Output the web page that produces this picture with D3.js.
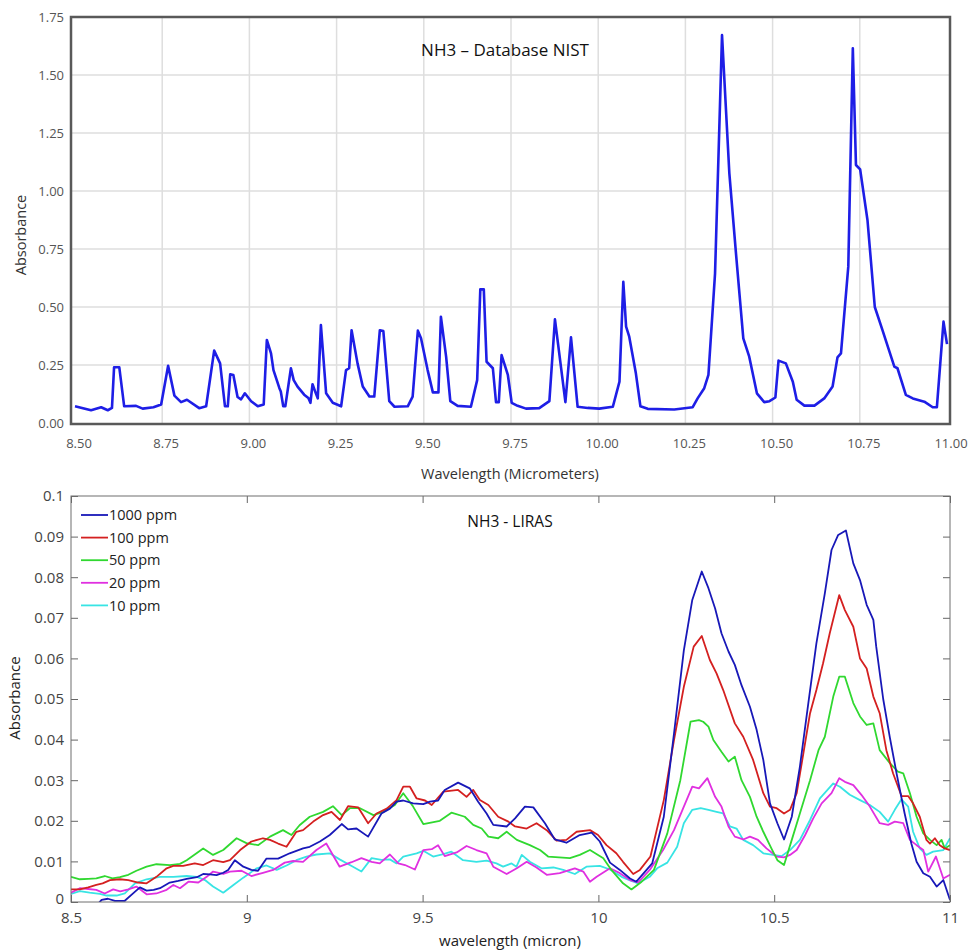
<!DOCTYPE html>
<html>
<head>
<meta charset="utf-8">
<script src="https://cdn.jsdelivr.net/npm/d3@7"></script>
<style>
  body { margin: 0; background: #fff; }
  svg { display: block; }
  text { font-family: "Open Sans", sans-serif; }
</style>
</head>
<body>
<svg id="chart" width="974" height="952"></svg>
<script>
// NIST reference spectrum: [wavelength (um), absorbance]
var nistSpectrum = [
  [8.50,0.072],[8.52,0.065],[8.546,0.055],[8.575,0.068],[8.594,0.055],[8.606,0.065],[8.612,0.24],[8.627,0.24],
  [8.641,0.072],[8.675,0.074],[8.694,0.062],[8.725,0.068],[8.747,0.08],[8.767,0.247],[8.785,0.118],[8.804,0.09],
  [8.821,0.10],[8.856,0.064],[8.876,0.072],[8.899,0.312],[8.916,0.257],[8.930,0.072],[8.938,0.072],[8.945,0.21],
  [8.954,0.207],[8.966,0.112],[8.976,0.102],[8.987,0.128],[9.005,0.094],[9.024,0.072],[9.041,0.08],[9.050,0.358],
  [9.062,0.30],[9.069,0.228],[9.086,0.15],[9.090,0.136],[9.097,0.072],[9.103,0.072],[9.119,0.236],[9.127,0.185],
  [9.138,0.157],[9.157,0.122],[9.169,0.108],[9.175,0.087],[9.181,0.167],[9.190,0.13],[9.196,0.106],[9.205,0.422],
  [9.220,0.128],[9.239,0.087],[9.263,0.072],[9.277,0.228],[9.286,0.236],[9.293,0.40],[9.310,0.257],[9.325,0.157],
  [9.344,0.114],[9.358,0.114],[9.374,0.40],[9.384,0.396],[9.401,0.094],[9.416,0.07],[9.454,0.072],[9.468,0.114],
  [9.483,0.398],[9.492,0.365],[9.511,0.228],[9.526,0.132],[9.542,0.132],[9.549,0.458],[9.564,0.286],[9.576,0.094],
  [9.597,0.074],[9.635,0.07],[9.653,0.185],[9.662,0.576],[9.672,0.576],[9.680,0.264],[9.698,0.236],[9.707,0.09],
  [9.715,0.09],[9.723,0.293],[9.741,0.207],[9.752,0.087],[9.769,0.074],[9.793,0.062],[9.831,0.064],[9.860,0.094],
  [9.876,0.447],[9.906,0.09],[9.922,0.369],[9.941,0.07],[9.970,0.065],[10.003,0.062],[10.042,0.07],[10.061,0.178],
  [10.072,0.609],[10.080,0.415],[10.089,0.372],[10.108,0.214],[10.121,0.072],[10.142,0.061],[10.218,0.058],
  [10.271,0.068],[10.285,0.106],[10.304,0.15],[10.316,0.207],[10.335,0.645],[10.355,1.672],[10.376,1.076],
  [10.395,0.731],[10.416,0.365],[10.433,0.286],[10.455,0.128],[10.476,0.09],[10.491,0.094],[10.508,0.11],
  [10.517,0.269],[10.538,0.257],[10.558,0.178],[10.569,0.1],[10.591,0.075],[10.620,0.075],[10.648,0.106],
  [10.672,0.157],[10.686,0.283],[10.696,0.30],[10.717,0.674],[10.730,1.615],[10.739,1.112],[10.751,1.093],
  [10.772,0.875],[10.793,0.50],[10.815,0.40],[10.849,0.243],[10.858,0.236],[10.882,0.121],[10.902,0.106],
  [10.935,0.092],[10.959,0.068],[10.971,0.068],[10.990,0.437],[11.0,0.34]
];
var nistXTicks = [8.5, 8.75, 9, 9.25, 9.5, 9.75, 10, 10.25, 10.5, 10.75, 11];
var nistYTicks = [0, 0.25, 0.5, 0.75, 1, 1.25, 1.5, 1.75];

// LIRAS measurements, one array per concentration: [wavelength (micron), absorbance]
var liras1000 = [
  [8.50,-0.002],[8.55,-0.003],[8.587,0.0005],[8.605,0.0008],[8.625,0.0003],[8.653,0.0003],[8.675,0.002],[8.696,0.0036],
  [8.715,0.0028],[8.735,0.003],[8.753,0.0034],[8.781,0.0048],[8.805,0.0052],[8.829,0.0057],[8.858,0.0061],[8.876,0.0069],
  [8.895,0.0068],[8.914,0.0066],[8.933,0.0072],[8.947,0.0079],[8.966,0.0103],[8.99,0.0087],[9.013,0.0079],[9.032,0.0077],
  [9.056,0.0107],[9.089,0.0107],[9.122,0.012],[9.16,0.0132],[9.179,0.0136],[9.208,0.0149],[9.236,0.0165],[9.27,0.0192],
  [9.288,0.0179],[9.312,0.0181],[9.345,0.0161],[9.383,0.0218],[9.407,0.023],[9.426,0.0247],[9.445,0.025],[9.473,0.0243],
  [9.502,0.0241],[9.521,0.0247],[9.544,0.025],[9.563,0.0276],[9.601,0.0294],[9.634,0.028],[9.658,0.0247],[9.682,0.0218],
  [9.701,0.019],[9.739,0.0186],[9.763,0.0206],[9.791,0.0235],[9.815,0.0233],[9.848,0.0194],[9.876,0.0154],[9.909,0.0146],
  [9.947,0.0165],[9.981,0.0171],[10.004,0.0149],[10.033,0.0097],[10.061,0.0079],[10.09,0.0058],[10.108,0.005],
  [10.137,0.0079],[10.153,0.0095],[10.186,0.021],[10.215,0.0415],[10.243,0.062],[10.267,0.0744],[10.294,0.0814],
  [10.313,0.0773],[10.332,0.0723],[10.35,0.0662],[10.37,0.0617],[10.388,0.0584],[10.407,0.0534],[10.431,0.0481],
  [10.45,0.0424],[10.469,0.035],[10.488,0.0243],[10.509,0.0194],[10.528,0.0154],[10.55,0.021],[10.573,0.0333],
  [10.597,0.0489],[10.62,0.0637],[10.644,0.076],[10.663,0.0867],[10.682,0.0904],[10.704,0.0915],[10.725,0.0834],
  [10.744,0.0793],[10.763,0.0732],[10.782,0.0695],[10.79,0.063],[10.81,0.050],[10.829,0.0405],[10.848,0.0317],
  [10.871,0.0218],[10.89,0.0144],[10.905,0.0099],[10.924,0.0071],[10.943,0.0062],[10.962,0.0038],[10.981,0.0054],[11.0,0.0005]
];
var liras100 = [
  [8.5,0.0031],[8.525,0.0031],[8.549,0.0036],[8.572,0.0042],[8.59,0.0046],[8.611,0.0054],[8.639,0.0056],[8.663,0.0054],
  [8.691,0.0048],[8.715,0.0046],[8.743,0.0062],[8.772,0.0083],[8.791,0.0089],[8.819,0.0089],[8.852,0.0095],[8.876,0.0091],
  [8.904,0.0103],[8.933,0.0098],[8.952,0.0103],[8.981,0.0128],[9.013,0.0149],[9.046,0.0157],[9.066,0.0153],[9.089,0.0144],
  [9.113,0.0136],[9.141,0.0173],[9.16,0.0177],[9.189,0.0198],[9.217,0.0214],[9.241,0.0222],[9.265,0.0202],[9.288,0.0236],
  [9.317,0.0233],[9.345,0.0194],[9.369,0.0218],[9.398,0.023],[9.426,0.0251],[9.445,0.0284],[9.464,0.0284],[9.483,0.0255],
  [9.507,0.025],[9.526,0.0239],[9.559,0.0272],[9.601,0.0276],[9.625,0.0259],[9.644,0.0276],[9.663,0.0251],[9.687,0.0239],
  [9.715,0.021],[9.744,0.0198],[9.763,0.0186],[9.796,0.0181],[9.824,0.0194],[9.853,0.0177],[9.881,0.0151],[9.909,0.0153],
  [9.938,0.0173],[9.976,0.0177],[9.999,0.0165],[10.023,0.014],[10.051,0.012],[10.07,0.0099],[10.099,0.0069],[10.118,0.0079],
  [10.148,0.0112],[10.186,0.0251],[10.215,0.0399],[10.243,0.053],[10.271,0.0629],[10.294,0.0655],[10.317,0.0596],
  [10.336,0.0563],[10.355,0.0522],[10.388,0.044],[10.412,0.0407],[10.44,0.035],[10.469,0.0268],[10.488,0.0235],
  [10.507,0.0231],[10.528,0.0218],[10.545,0.0227],[10.564,0.0268],[10.583,0.0366],[10.602,0.0465],[10.62,0.0522],
  [10.639,0.0588],[10.658,0.0662],[10.685,0.0756],[10.701,0.0719],[10.725,0.0678],[10.744,0.06],[10.763,0.0575],
  [10.782,0.0506],[10.8,0.0465],[10.819,0.0374],[10.838,0.0317],[10.862,0.0261],[10.881,0.0261],[10.895,0.0243],
  [10.914,0.021],[10.933,0.0153],[10.943,0.0144],[10.957,0.0157],[10.971,0.014],[10.985,0.0132],[11.0,0.0128]
];
var liras50 = [
  [8.5,0.0062],[8.525,0.0056],[8.549,0.0057],[8.572,0.0058],[8.596,0.0064],[8.618,0.0058],[8.639,0.0061],[8.663,0.0067],
  [8.686,0.0077],[8.715,0.0087],[8.743,0.0093],[8.781,0.0091],[8.81,0.0094],[8.829,0.0103],[8.876,0.0132],[8.904,0.0116],
  [8.933,0.0128],[8.971,0.0157],[8.999,0.0145],[9.032,0.014],[9.066,0.0161],[9.103,0.0177],[9.127,0.0165],[9.15,0.0189],
  [9.179,0.021],[9.217,0.0222],[9.245,0.0236],[9.27,0.0214],[9.293,0.0231],[9.322,0.0231],[9.36,0.0214],[9.388,0.0222],
  [9.421,0.0239],[9.445,0.0268],[9.473,0.0235],[9.502,0.0192],[9.549,0.02],[9.582,0.022],[9.62,0.021],[9.644,0.019],
  [9.668,0.0181],[9.687,0.0161],[9.715,0.0157],[9.739,0.0173],[9.768,0.0153],[9.805,0.014],[9.834,0.0128],[9.857,0.0112],
  [9.919,0.0108],[9.947,0.0116],[9.976,0.0128],[10.014,0.0108],[10.037,0.0079],[10.07,0.0046],[10.094,0.0031],
  [10.123,0.005],[10.158,0.0079],[10.196,0.0169],[10.233,0.03],[10.262,0.0444],[10.286,0.0448],[10.298,0.0444],
  [10.313,0.0432],[10.327,0.0399],[10.35,0.037],[10.37,0.0346],[10.388,0.0358],[10.407,0.03],[10.431,0.0259],
  [10.45,0.021],[10.469,0.0173],[10.492,0.0132],[10.509,0.0103],[10.528,0.0091],[10.55,0.0153],[10.573,0.0218],
  [10.602,0.03],[10.626,0.0374],[10.644,0.0407],[10.668,0.0506],[10.685,0.0555],[10.701,0.0555],[10.725,0.049],
  [10.744,0.0457],[10.763,0.0436],[10.782,0.044],[10.8,0.0374],[10.829,0.0342],[10.852,0.0321],[10.867,0.0317],
  [10.886,0.0268],[10.905,0.021],[10.924,0.0169],[10.943,0.0153],[10.962,0.014],[10.976,0.0153],[10.985,0.0132],[11.0,0.014]
];
var liras20 = [
  [8.5,0.0023],[8.525,0.0034],[8.549,0.0032],[8.572,0.003],[8.596,0.0021],[8.62,0.0031],[8.64,0.0026],[8.663,0.0031],
  [8.686,0.0038],[8.715,0.0019],[8.743,0.0021],[8.772,0.003],[8.791,0.0042],[8.81,0.0034],[8.834,0.005],[8.862,0.0048],
  [8.886,0.0062],[8.904,0.0075],[8.933,0.0069],[8.952,0.0075],[8.985,0.0077],[9.013,0.0064],[9.046,0.0072],[9.075,0.0079],
  [9.108,0.0097],[9.132,0.0101],[9.16,0.0099],[9.198,0.0128],[9.226,0.0144],[9.264,0.0087],[9.298,0.0098],[9.326,0.0108],
  [9.355,0.0099],[9.378,0.0095],[9.407,0.0117],[9.431,0.0095],[9.45,0.0091],[9.478,0.008],[9.502,0.0128],[9.526,0.013],
  [9.544,0.014],[9.563,0.0113],[9.597,0.0122],[9.625,0.0138],[9.653,0.0128],[9.682,0.012],[9.701,0.0087],[9.739,0.0069],
  [9.768,0.0083],[9.796,0.0099],[9.824,0.0085],[9.853,0.0067],[9.89,0.0071],[9.933,0.0083],[9.957,0.0075],[9.976,0.005],
  [9.995,0.0062],[10.033,0.0083],[10.061,0.0071],[10.09,0.0054],[10.113,0.0048],[10.146,0.0079],[10.184,0.0128],
  [10.215,0.0177],[10.243,0.0235],[10.267,0.0284],[10.286,0.028],[10.31,0.0305],[10.332,0.0259],[10.35,0.0235],
  [10.37,0.0186],[10.388,0.0161],[10.412,0.0154],[10.431,0.0161],[10.454,0.0153],[10.478,0.0132],[10.507,0.0112],
  [10.528,0.011],[10.545,0.0116],[10.564,0.0128],[10.588,0.0165],[10.611,0.0206],[10.635,0.0243],[10.663,0.0268],
  [10.685,0.0305],[10.701,0.0296],[10.725,0.0288],[10.748,0.0264],[10.772,0.0235],[10.8,0.0194],[10.824,0.019],
  [10.843,0.0198],[10.867,0.0194],[10.886,0.0153],[10.905,0.014],[10.924,0.0128],[10.938,0.0075],[10.96,0.0112],
  [10.981,0.0058],[11.0,0.0067]
];
var liras10 = [
  [8.5,0.002],[8.525,0.0027],[8.553,0.0023],[8.582,0.002],[8.601,0.0016],[8.63,0.0016],[8.653,0.0021],[8.682,0.0046],
  [8.715,0.0056],[8.753,0.0062],[8.791,0.0062],[8.829,0.0064],[8.858,0.0062],[8.881,0.0054],[8.904,0.0038],[8.933,0.0023],
  [8.962,0.0042],[8.99,0.006],[9.028,0.0083],[9.056,0.009],[9.085,0.0079],[9.113,0.009],[9.141,0.0103],[9.17,0.0112],
  [9.198,0.0117],[9.236,0.012],[9.264,0.0105],[9.293,0.0091],[9.326,0.0075],[9.355,0.0108],[9.383,0.0104],[9.407,0.0105],
  [9.426,0.0095],[9.445,0.0112],[9.483,0.012],[9.502,0.0126],[9.53,0.0112],[9.559,0.0118],[9.582,0.0124],[9.615,0.0103],
  [9.653,0.0099],[9.682,0.0102],[9.71,0.0095],[9.729,0.0087],[9.753,0.0095],[9.767,0.0087],[9.782,0.0116],[9.805,0.0099],
  [9.838,0.0083],[9.872,0.0085],[9.9,0.0079],[9.933,0.0069],[9.966,0.0087],[10.004,0.0089],[10.033,0.008],[10.066,0.0062],
  [10.09,0.0053],[10.113,0.0046],[10.146,0.0062],[10.167,0.0083],[10.196,0.0097],[10.224,0.0136],[10.243,0.0194],
  [10.267,0.0227],[10.291,0.0231],[10.313,0.0227],[10.336,0.0222],[10.355,0.0218],[10.374,0.0186],[10.393,0.0181],
  [10.412,0.0153],[10.44,0.014],[10.469,0.012],[10.497,0.0116],[10.521,0.0113],[10.545,0.0128],[10.573,0.0153],
  [10.602,0.0202],[10.63,0.0255],[10.668,0.0292],[10.687,0.0284],[10.715,0.0264],[10.744,0.0251],[10.772,0.0239],
  [10.8,0.0222],[10.824,0.0198],[10.843,0.0227],[10.862,0.0253],[10.881,0.0235],[10.895,0.0173],[10.914,0.0132],
  [10.933,0.0116],[10.952,0.0124],[10.981,0.0128],[11.0,0.0157]
];
var lirasNames = ["1000 ppm", "100 ppm", "50 ppm", "20 ppm", "10 ppm"];
var lirasColors = ["#1818b8", "#d42020", "#30d830", "#e030e0", "#38e4e4"];
var lirasXTicks = [8.5, 9, 9.5, 10, 10.5, 11];
var lirasYTicks = [0, 0.01, 0.02, 0.03, 0.04, 0.05, 0.06, 0.07, 0.08, 0.09, 0.1];

var svg = d3.select("#chart");

/* ---------- top chart: NIST database ---------- */
var xTop = d3.scaleLinear().domain([8.5, 11]).range([75, 947]);
var yTop = d3.scaleLinear().domain([0, 1.75]).range([423, 17]);
var topBox = {x: 71, y: 17, w: 879, h: 407};

var gTop = svg.append("g");

gTop.selectAll("line.vgrid")
  .data(nistXTicks.slice(1, -1))
  .enter().append("line")
  .attr("x1", function (d) { return xTop(d); })
  .attr("x2", function (d) { return xTop(d); })
  .attr("y1", topBox.y).attr("y2", topBox.y + topBox.h)
  .attr("stroke", "#dedede").attr("stroke-width", 1.5);

gTop.selectAll("line.hgrid")
  .data(nistYTicks.slice(1, -1))
  .enter().append("line")
  .attr("x1", topBox.x).attr("x2", topBox.x + topBox.w)
  .attr("y1", function (d) { return yTop(d); })
  .attr("y2", function (d) { return yTop(d); })
  .attr("stroke", "#dedede").attr("stroke-width", 1.5);

svg.append("clipPath").attr("id", "clipTop")
  .append("rect").attr("x", topBox.x).attr("y", topBox.y)
  .attr("width", topBox.w).attr("height", topBox.h);

var nistLine = d3.line()
  .x(function (d) { return xTop(d[0]); })
  .y(function (d) { return yTop(d[1]); });

gTop.append("path")
  .datum(nistSpectrum)
  .attr("clip-path", "url(#clipTop)")
  .attr("d", nistLine)
  .attr("fill", "none")
  .attr("stroke", "#1e1ee6")
  .attr("stroke-width", 2.6)
  .attr("stroke-linejoin", "round");

gTop.append("rect")
  .attr("x", topBox.x).attr("y", topBox.y)
  .attr("width", topBox.w).attr("height", topBox.h)
  .attr("fill", "none").attr("stroke", "#595959").attr("stroke-width", 2.5);

// tick labels
gTop.selectAll("text.xt")
  .data(nistXTicks)
  .enter().append("text")
  .attr("x", function (d) { return xTop(d) + 4; })
  .attr("y", 448)
  .attr("text-anchor", "middle")
  .attr("font-size", 13)
  .attr("fill", "#555")
  .text(d3.format(".2f"));

gTop.selectAll("text.yt")
  .data(nistYTicks)
  .enter().append("text")
  .attr("x", 64)
  .attr("y", function (d) { return yTop(d) + 5; })
  .attr("text-anchor", "end")
  .attr("font-size", 13)
  .attr("fill", "#555")
  .text(d3.format(".2f"));

gTop.append("text")
  .attr("transform", "translate(26,235) rotate(-90)")
  .attr("text-anchor", "middle")
  .attr("font-size", 14.5)
  .attr("fill", "#333")
  .text("Absorbance");

gTop.append("text")
  .attr("x", 510).attr("y", 479)
  .attr("text-anchor", "middle")
  .attr("font-size", 14.5)
  .attr("fill", "#333")
  .text("Wavelength (Micrometers)");

gTop.append("text")
  .attr("x", 505).attr("y", 56)
  .attr("text-anchor", "middle")
  .attr("font-size", 17)
  .attr("fill", "#111")
  .text("NH3 \u2013 Database NIST");

/* ---------- bottom chart: LIRAS ---------- */
var xBot = d3.scaleLinear().domain([8.5, 11]).range([71, 950]);
var yBot = d3.scaleLinear().domain([0, 0.1]).range([902, 496]);

var gBot = svg.append("g");
var fmtY = function (d) { return String(+d.toFixed(2)); };

function styleAxis(g) {
  g.select(".domain").remove();
  g.selectAll(".tick line").attr("stroke", "#666");
  g.selectAll(".tick text")
    .attr("fill", "#444")
    .style("font-family", "'Open Sans', sans-serif")
    .style("font-size", "15px");
}

gBot.append("g").attr("transform", "translate(0,902)")
  .call(d3.axisBottom(xBot).tickValues(lirasXTicks).tickSize(-7).tickPadding(10).tickFormat(fmtY))
  .call(styleAxis);
gBot.append("g").attr("transform", "translate(0,496)")
  .call(d3.axisTop(xBot).tickValues(lirasXTicks).tickSize(-7).tickFormat(""))
  .call(styleAxis);
gBot.append("g").attr("transform", "translate(71,0)")
  .call(d3.axisLeft(yBot).tickValues(lirasYTicks).tickSize(-7).tickPadding(7).tickFormat(fmtY))
  .call(styleAxis);
gBot.append("g").attr("transform", "translate(950,0)")
  .call(d3.axisRight(yBot).tickValues(lirasYTicks).tickSize(-7).tickFormat(""))
  .call(styleAxis);

// nudge the "0" label up a little so it clears the "8.5" label below it
gBot.selectAll(".tick text").filter(function (d) { return d === 0; }).attr("dy", "0.1em");

svg.append("clipPath").attr("id", "clipBot")
  .append("rect").attr("x", 71).attr("y", 496).attr("width", 879).attr("height", 406);

var lirasSeries = [liras1000, liras100, liras50, liras20, liras10];
var lirasLine = d3.line()
  .x(function (d) { return xBot(d[0]); })
  .y(function (d) { return yBot(d[1]); });

// draw thinnest concentration first so 1000 ppm sits on top
gBot.selectAll("path.series")
  .data(lirasSeries.slice().reverse())
  .enter().append("path")
  .attr("clip-path", "url(#clipBot)")
  .attr("d", lirasLine)
  .attr("fill", "none")
  .attr("stroke", function (d, i) { return lirasColors[lirasColors.length - 1 - i]; })
  .attr("stroke-width", 1.8)
  .attr("stroke-linejoin", "round");

gBot.append("rect")
  .attr("x", 71).attr("y", 496).attr("width", 879).attr("height", 406)
  .attr("fill", "none").attr("stroke", "#6e6e6e").attr("stroke-width", 1);

// legend
var legend = gBot.selectAll("g.legend")
  .data(lirasNames)
  .enter().append("g")
  .attr("transform", function (d, i) { return "translate(81," + (515 + i * 22.6) + ")"; });
legend.append("line")
  .attr("x1", 0).attr("x2", 27)
  .attr("stroke", function (d, i) { return lirasColors[i]; })
  .attr("stroke-width", 1.8);
legend.append("text")
  .attr("x", 28).attr("dy", "0.36em")
  .attr("font-size", 14.5)
  .attr("fill", "#222")
  .text(function (d) { return d; });

gBot.append("text")
  .attr("x", 510).attr("y", 527)
  .attr("text-anchor", "middle")
  .attr("font-size", 15.5)
  .attr("fill", "#111")
  .text("NH3 - LIRAS");

gBot.append("text")
  .attr("transform", "translate(20,698) rotate(-90)")
  .attr("text-anchor", "middle")
  .attr("font-size", 15)
  .attr("fill", "#222")
  .text("Absorbance");

gBot.append("text")
  .attr("x", 510).attr("y", 946)
  .attr("text-anchor", "middle")
  .attr("font-size", 15)
  .attr("fill", "#222")
  .text("wavelength (micron)");
</script>
</body>
</html>
